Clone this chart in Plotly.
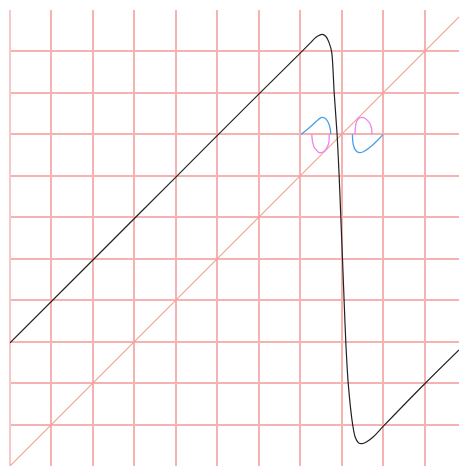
import plotly.graph_objects as go

# Main curve (black)
curve_x = [0, 2, 4, 6, 7.0, 7.24, 7.38, 7.53, 7.62, 7.70, 7.76, 7.82, 7.89, 7.94, 7.98,
           8.02, 8.06, 8.10, 8.16, 8.27, 8.323, 8.403, 8.485, 8.606, 8.765, 9.006, 10.01, 10.83]
curve_y = [2.97, 4.97, 6.97, 8.97, 9.96, 10.2, 10.34, 10.41, 10.36, 10.20, 9.98, 8.99, 7.99, 6.98, 5.98,
           4.99, 3.96, 2.98, 1.97, 0.965, 0.707, 0.562, 0.538, 0.586, 0.707, 0.96, 1.99, 2.80]

# Diagonal y = x
diag_x = [0, 11]
diag_y = [0, 11]

# Small blue / magenta lobes
blue1_x = [7.02, 7.16, 7.32, 7.44, 7.52, 7.60, 7.68, 7.72, 7.74]
blue1_y = [8.0, 8.11, 8.25, 8.36, 8.41, 8.39, 8.28, 8.15, 8.0]
mag1_x = [7.28, 7.29, 7.33, 7.40, 7.46, 7.56, 7.64, 7.69, 7.70]
mag1_y = [8.0, 7.87, 7.70, 7.61, 7.56, 7.58, 7.67, 7.80, 8.0]
blue2_x = [8.26, 8.28, 8.34, 8.42, 8.52, 8.72, 8.88, 9.0]
blue2_y = [8.0, 7.75, 7.61, 7.56, 7.58, 7.72, 7.87, 8.0]
mag2_x = [8.32, 8.33, 8.36, 8.42, 8.47, 8.56, 8.67, 8.72, 8.73]
mag2_y = [8.0, 8.15, 8.31, 8.39, 8.41, 8.39, 8.28, 8.15, 8.0]

BLUE = "#4aa0e6"
MAGENTA = "#ee82ee"

fig = go.Figure()
fig.add_trace(go.Scatter(x=diag_x, y=diag_y, mode="lines",
                         line=dict(color="#f2a092", width=1.1)))
fig.add_trace(go.Scatter(x=curve_x, y=curve_y, mode="lines",
                         line=dict(color="#222222", width=1.2, shape="spline", smoothing=0.8)))
for xs, ys, c in [(blue1_x, blue1_y, BLUE), (mag1_x, mag1_y, MAGENTA),
                  (blue2_x, blue2_y, BLUE), (mag2_x, mag2_y, MAGENTA)]:
    fig.add_trace(go.Scatter(x=xs, y=ys, mode="lines",
                             line=dict(color=c, width=1.3, shape="spline", smoothing=1)))

grid = "#f5b2b2"
fig.update_layout(
    width=459, height=466,
    margin=dict(l=10, r=0, t=10, b=0),
    paper_bgcolor="white", plot_bgcolor="white",
    showlegend=False,
    xaxis=dict(range=[0, 10.83], dtick=1, tick0=0, showgrid=True, gridcolor=grid, gridwidth=2,
               zeroline=True, zerolinecolor="#f8c8c8", zerolinewidth=2,
               showticklabels=False, ticks=""),
    yaxis=dict(range=[0, 11], dtick=1, tick0=0, showgrid=True, gridcolor=grid, gridwidth=2,
               zeroline=False, showticklabels=False, ticks="",
               showline=False),
)
fig.write_html("out.html", config={"displayModeBar": False},
               post_script="document.body.style.margin='0';document.body.style.overflow='hidden';")
